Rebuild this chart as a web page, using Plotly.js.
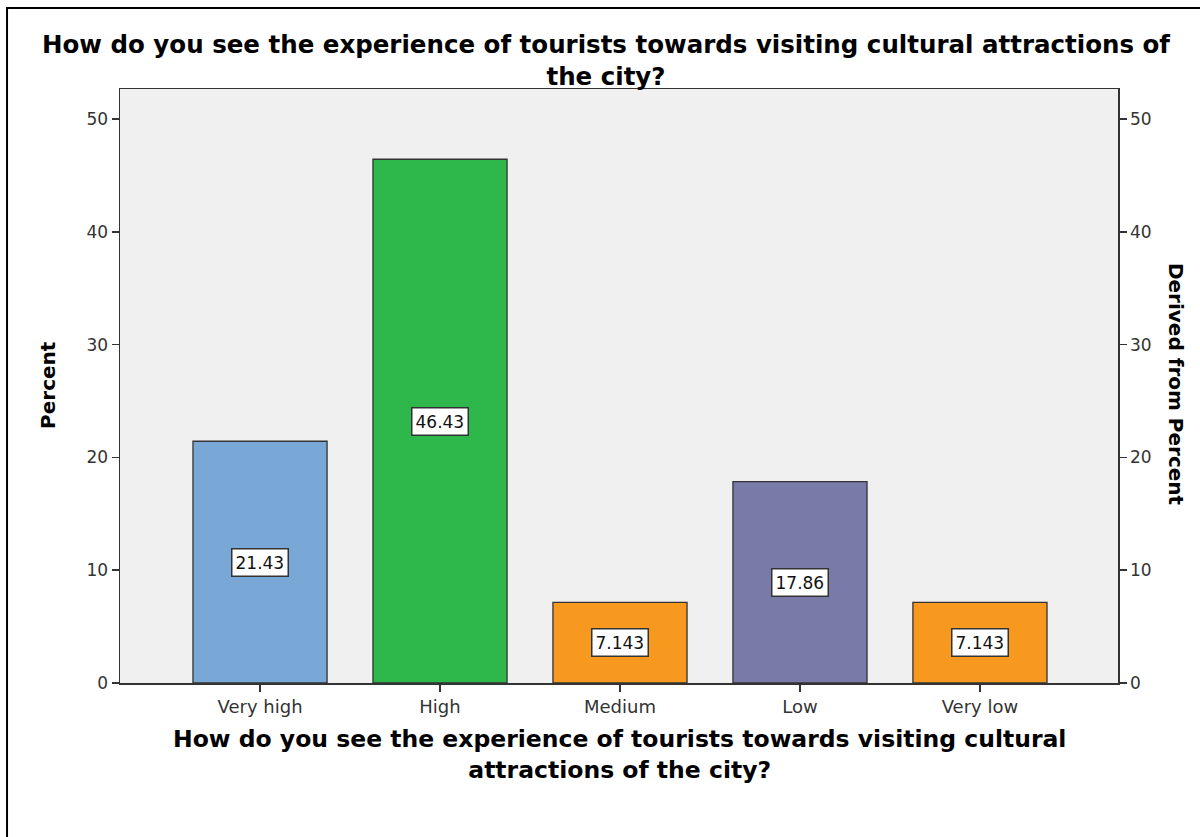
<!DOCTYPE html>
<html>
<head>
<meta charset="utf-8">
<script src="https://cdn.plot.ly/plotly-3.0.1.min.js"></script>
<style>html,body{margin:0;padding:0;background:#fff;}#chart{width:1200px;height:837px;}</style>
</head>
<body>
<div id="chart"></div>
<script>
const categories = ["Very high", "High", "Medium", "Low", "Very low"];
const percents = [21.43, 46.43, 7.143, 17.86, 7.143];
const labels = ["21.43", "46.43", "7.143", "17.86", "7.143"];
const barColors = ["#79A8D6", "#2EB84B", "#F7991E", "#7A7AA8", "#F7991E"];
const yTicks = [0, 10, 20, 30, 40, 50];
const chartTitle = "How do you see the experience of tourists towards visiting cultural attractions of<br>the city?";
const xTitle = "How do you see the experience of tourists towards visiting cultural<br>attractions of the city?";
const yTitle = "Percent";
const y2Title = "Derived from Percent";

const font = "DejaVu Sans, Verdana, sans-serif";

const traces = [
  {
    type: "bar",
    x: categories,
    y: percents,
    width: 0.745,
    marker: {color: barColors, line: {color: "#333333", width: 1.3}},
    hoverinfo: "skip",
    showlegend: false
  },
  {
    type: "scatter",
    mode: "markers",
    x: categories,
    y: percents,
    yaxis: "y2",
    marker: {opacity: 0},
    hoverinfo: "skip",
    showlegend: false
  }
];

const annotations = categories.map((c, i) => ({
  x: c, y: percents[i] / 2, xref: "x", yref: "y",
  text: labels[i], showarrow: false,
  font: {family: font, size: 17, color: "#111"},
  bgcolor: "#ffffff", bordercolor: "#333333", borderwidth: 1.5, borderpad: 3
}));
annotations.push({
  xref: "paper", yref: "paper", x: 0.5, y: -0.121, xanchor: "center", yanchor: "middle",
  text: "<b>" + xTitle + "</b>", showarrow: false,
  font: {family: font, size: 23.5, color: "#000"}
});
annotations.push({
  xref: "paper", yref: "paper", x: -0.072, y: 0.502, xanchor: "center", yanchor: "middle",
  text: "<b>" + yTitle + "</b>", showarrow: false, textangle: -90,
  font: {family: font, size: 20, color: "#000"}
});
annotations.push({
  xref: "paper", yref: "paper", x: 1.058, y: 0.502, xanchor: "center", yanchor: "middle",
  text: "<b>" + y2Title + "</b>", showarrow: false, textangle: 90,
  font: {family: font, size: 20, color: "#000"}
});

const axisY = {
  range: [0, 52.66], tickvals: yTicks, ticks: "outside", ticklen: 7, tickwidth: 1.5,
  tickcolor: "#333", showgrid: false, zeroline: false, showline: true, linecolor: "#333",
  linewidth: 1.5, tickfont: {family: font, size: 17, color: "#333"}, fixedrange: true
};

const layout = {
  width: 1200, height: 837,
  margin: {l: 120, r: 82, t: 89, b: 154},
  paper_bgcolor: "#ffffff",
  plot_bgcolor: "#F0F0F0",
  title: {
    text: "<b>" + chartTitle + "</b>",
    x: 0.505, xref: "container", xanchor: "center",
    y: 0.937, yref: "container", yanchor: "middle",
    font: {family: font, size: 24.5, color: "#000"}
  },
  xaxis: {
    type: "category", range: [-0.778, 4.767], ticks: "outside", ticklen: 7, tickwidth: 1.5,
    tickcolor: "#333", showline: true, linecolor: "#333", linewidth: 1.5, mirror: true,
    showgrid: false, tickfont: {family: font, size: 18, color: "#333"}, fixedrange: true
  },
  yaxis: Object.assign({}, axisY, {side: "left"}),
  yaxis2: Object.assign({}, axisY, {side: "right", overlaying: "y"}),
  annotations: annotations,
  shapes: [{
    type: "rect", xref: "paper", yref: "paper",
    x0: -0.1132, x1: 1.2, y0: -0.3, y1: 1.1364,
    line: {color: "#000", width: 2}, fillcolor: "rgba(0,0,0,0)", layer: "below"
  }]
};

Plotly.newPlot("chart", traces, layout, {displayModeBar: false, staticPlot: true});
</script>
</body>
</html>
